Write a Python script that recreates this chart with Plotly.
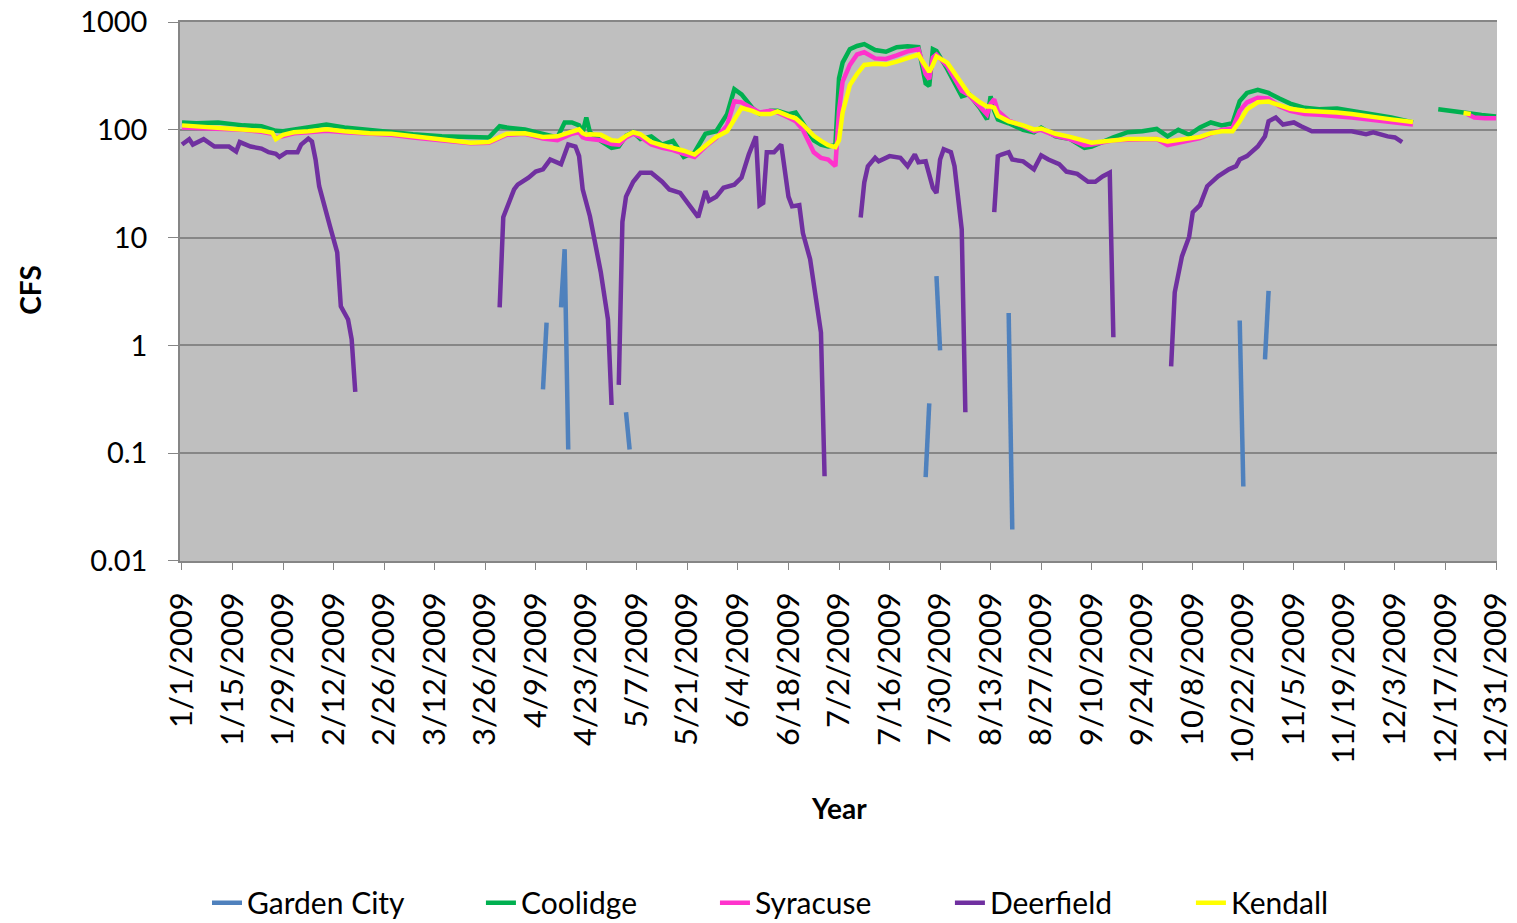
import plotly.graph_objects as go

# ---------------- data ----------------
main_dates = [
    "2009-01-01", "2009-01-05", "2009-01-11", "2009-01-18", "2009-01-23", "2009-01-26", "2009-01-27",
    "2009-01-29", "2009-02-01", "2009-02-05", "2009-02-10", "2009-02-15", "2009-02-22", "2009-02-28",
    "2009-03-06", "2009-03-14", "2009-03-22", "2009-03-27", "2009-03-30", "2009-04-01", "2009-04-06",
    "2009-04-11", "2009-04-15", "2009-04-17", "2009-04-19", "2009-04-21", "2009-04-22", "2009-04-23",
    "2009-04-24", "2009-04-27", "2009-04-30", "2009-05-02", "2009-05-04", "2009-05-06", "2009-05-08",
    "2009-05-11", "2009-05-14", "2009-05-17", "2009-05-20", "2009-05-23", "2009-05-26", "2009-05-29",
    "2009-06-01", "2009-06-03", "2009-06-05", "2009-06-08", "2009-06-10", "2009-06-13", "2009-06-15",
    "2009-06-18", "2009-06-20", "2009-06-22", "2009-06-25", "2009-06-27", "2009-06-29", "2009-07-01",
    "2009-07-02", "2009-07-03", "2009-07-05", "2009-07-07", "2009-07-09", "2009-07-12", "2009-07-15",
    "2009-07-18", "2009-07-21", "2009-07-24", "2009-07-25", "2009-07-26", "2009-07-27", "2009-07-28",
    "2009-07-29", "2009-08-01", "2009-08-05", "2009-08-07", "2009-08-10", "2009-08-11", "2009-08-12",
    "2009-08-13", "2009-08-14", "2009-08-15", "2009-08-18", "2009-08-22", "2009-08-25", "2009-08-27",
    "2009-08-31", "2009-09-04", "2009-09-08", "2009-09-10", "2009-09-13", "2009-09-16", "2009-09-20",
    "2009-09-24", "2009-09-28", "2009-10-01", "2009-10-04", "2009-10-07", "2009-10-10", "2009-10-13",
    "2009-10-16", "2009-10-19", "2009-10-21", "2009-10-23", "2009-10-26", "2009-10-29", "2009-11-01",
    "2009-11-04", "2009-11-08", "2009-11-12", "2009-11-17", "2009-11-21", "2009-11-27", "2009-12-02",
    "2009-12-08", "2009-12-10",
]

coolidge_main = [
    117, 115, 117, 110, 108, 100, 98,
    97, 100, 105, 112, 105, 99, 95,
    91, 87, 85, 85, 108, 105, 101,
    91, 85, 117, 117, 110, 95, 130,
    95, 79, 68, 70, 88, 95, 82,
    87, 73, 79, 56, 62, 92, 97,
    140, 238, 213, 160, 140, 150, 150,
    140, 145, 115, 80, 73, 70, 72,
    300, 420, 560, 600, 625, 550, 530,
    585, 595, 585, 390, 270, 255, 560,
    540, 365, 205, 215, 160, 140, 125,
    205, 150, 125, 115, 100, 95, 105,
    87, 82, 68, 70, 78, 85, 95,
    97, 102, 87, 100, 90, 105, 117,
    110, 115, 185, 220, 235, 220, 195,
    175, 160, 155, 158, 150, 140, 130,
    117, None,
]

syracuse_main = [
    105, 104, 103, 100, 96, 92, 84,
    88, 93, 95, 98, 95, 92, 90,
    85, 79, 75, 76, 84, 90, 92,
    83, 80, 86, 92, 95, 85, 83,
    82, 80, 74, 73, 85, 92, 86,
    73, 68, 65, 60, 56, 70, 84,
    110, 184, 180, 160, 145, 150, 145,
    130, 120, 100, 62, 55, 53, 46,
    150, 280, 400, 500, 525, 460, 455,
    490, 535, 560, 420, 330, 295, 470,
    500, 390, 230, 210, 165, 150, 139,
    175, 192, 150, 122, 108, 97, 100,
    88, 82, 72, 73, 77, 80, 81,
    81, 82, 72, 76, 80, 84, 92,
    100, 103, 150, 180, 198, 195, 165,
    150, 140, 138, 135, 130, 123, 118,
    112, None,
]

kendall_main = [
    110, 108, 106, 102, 98, 94, 82,
    90, 95, 97, 101, 97, 93, 92,
    87, 80, 76, 77, 87, 92, 93,
    86, 87, 91, 97, 101, 93, 90,
    91, 90, 80, 79, 88, 95, 91,
    77, 72, 68, 64, 59, 72, 86,
    97, 125, 160, 150, 140, 140, 148,
    135, 128, 112, 88, 79, 72, 69,
    80, 145, 260, 330, 400, 410, 405,
    430, 465, 500, 440, 390, 345, 400,
    480, 420, 265, 215, 180, 172, 165,
    165, 160, 135, 120, 110, 101, 103,
    92, 86, 80, 76, 78, 80, 82,
    82, 82, 78, 80, 82, 86, 93,
    97, 97, 120, 155, 180, 183, 170,
    157, 150, 148, 145, 140, 133, 125,
    118, None,
]

coolidge_late_dates = ["2009-12-15", "2009-12-19", "2009-12-23", "2009-12-27", "2009-12-31"]
coolidge_late = [155, 150, 143, 137, 133]
syracuse_late_dates = ["2009-12-23", "2009-12-25", "2009-12-28", "2009-12-31"]
syracuse_late = [140, 130, 128, 128]
kendall_late_dates = ["2009-12-22", "2009-12-24"]
kendall_late = [143, 140]

deerfield_dates = [
    "2009-01-01", "2009-01-03", "2009-01-04", "2009-01-07", "2009-01-10", "2009-01-14", "2009-01-16",
    "2009-01-17", "2009-01-20", "2009-01-23", "2009-01-25", "2009-01-27", "2009-01-28", "2009-01-30",
    "2009-02-02", "2009-02-03", "2009-02-05", "2009-02-06", "2009-02-07", "2009-02-08", "2009-02-11",
    "2009-02-13", "2009-02-14", "2009-02-16", "2009-02-17", "2009-02-18", "2009-02-19",
    "2009-03-30", "2009-03-31", "2009-04-03", "2009-04-04", "2009-04-07", "2009-04-09", "2009-04-11",
    "2009-04-13", "2009-04-16", "2009-04-18", "2009-04-20", "2009-04-21", "2009-04-22", "2009-04-24",
    "2009-04-27", "2009-04-29", "2009-04-30", "2009-05-01",
    "2009-05-02", "2009-05-03", "2009-05-04", "2009-05-06", "2009-05-08", "2009-05-11", "2009-05-14",
    "2009-05-16", "2009-05-19", "2009-05-22", "2009-05-24", "2009-05-26", "2009-05-27", "2009-05-29",
    "2009-05-31", "2009-06-03", "2009-06-05", "2009-06-07", "2009-06-09", "2009-06-10", "2009-06-11",
    "2009-06-12", "2009-06-14", "2009-06-16", "2009-06-18", "2009-06-19", "2009-06-21", "2009-06-22",
    "2009-06-24", "2009-06-27", "2009-06-28", "2009-06-29",
    "2009-07-08", "2009-07-09", "2009-07-10", "2009-07-12", "2009-07-13", "2009-07-16", "2009-07-19",
    "2009-07-21", "2009-07-23", "2009-07-24", "2009-07-26", "2009-07-28", "2009-07-29", "2009-07-30",
    "2009-07-31", "2009-08-02", "2009-08-03", "2009-08-05", "2009-08-06", "2009-08-07",
    "2009-08-14", "2009-08-15", "2009-08-16", "2009-08-18", "2009-08-19", "2009-08-22", "2009-08-25",
    "2009-08-27", "2009-08-29", "2009-09-01", "2009-09-03", "2009-09-06", "2009-09-09", "2009-09-11",
    "2009-09-13", "2009-09-15", "2009-09-16", "2009-09-17",
    "2009-10-02", "2009-10-03", "2009-10-05", "2009-10-07", "2009-10-08", "2009-10-10", "2009-10-12",
    "2009-10-15", "2009-10-18", "2009-10-20", "2009-10-21", "2009-10-23", "2009-10-26", "2009-10-28",
    "2009-10-29", "2009-10-31", "2009-11-02", "2009-11-05", "2009-11-07", "2009-11-10", "2009-11-14",
    "2009-11-21", "2009-11-25", "2009-11-27", "2009-12-01", "2009-12-03", "2009-12-05",
]
deerfield = [
    73, 82, 73, 82, 70, 70, 63,
    77, 70, 67, 62, 60, 56, 62,
    62, 73, 83, 78, 53, 30, 12.7,
    7.3, 2.3, 1.74, 1.14, 0.37, None,
    2.25, 15.5, 28, 31, 36, 41, 43,
    53, 48, 73, 70, 57, 28, 15.8,
    4.8, 1.74, 0.28, None,
    0.43, 14, 24, 33, 40, 40, 33,
    28, 26, 19.5, 15.5, 27, 22, 24,
    29, 31, 36, 59, 87, 20, 21,
    62, 62, 73, 24, 19.5, 20, 11,
    6.3, 1.32, 0.061, None,
    15.4, 32.5, 46, 55, 51, 57, 55,
    46, 59, 50, 51, 29, 26, 53,
    66, 62, 46, 11.9, 0.24, None,
    17.2, 57, 59, 62, 53, 51, 43,
    58, 53, 48, 41, 39, 33, 33,
    37, 40, 1.19, None,
    0.64, 3.1, 6.7, 10.2, 17.2, 20, 30,
    37, 43, 46, 53, 57, 70, 87,
    120, 130, 112, 117, 108, 97, 97,
    97, 91, 95, 87, 85, 77,
]

garden_city_dates = [
    "2009-04-11", "2009-04-12", "2009-04-13",
    "2009-04-16", "2009-04-17", "2009-04-18", "2009-04-19",
    "2009-05-04", "2009-05-05", "2009-05-06",
    "2009-07-26", "2009-07-27", "2009-07-28",
    "2009-07-29", "2009-07-30", "2009-07-31",
    "2009-08-18", "2009-08-19", "2009-08-20",
    "2009-10-21", "2009-10-22", "2009-10-23",
    "2009-10-28", "2009-10-29",
]
garden_city = [
    0.39, 1.63, None,
    2.25, 7.8, 0.108, None,
    0.24, 0.108, None,
    0.06, 0.29, None,
    4.4, 0.9, None,
    2.0, 0.0196, None,
    1.7, 0.049, None,
    0.74, 3.2,
]

y_tick_vals = [0.01, 0.1, 1, 10, 100, 1000]
y_tick_text = ["0.01", "0.1", "1", "10", "100", "1000"]

x_tick_vals = [
    "2009-01-01", "2009-01-15", "2009-01-29", "2009-02-12", "2009-02-26", "2009-03-12", "2009-03-26",
    "2009-04-09", "2009-04-23", "2009-05-07", "2009-05-21", "2009-06-04", "2009-06-18", "2009-07-02",
    "2009-07-16", "2009-07-30", "2009-08-13", "2009-08-27", "2009-09-10", "2009-09-24", "2009-10-08",
    "2009-10-22", "2009-11-05", "2009-11-19", "2009-12-03", "2009-12-17", "2009-12-31",
]
x_tick_text = [
    "1/1/2009", "1/15/2009", "1/29/2009", "2/12/2009", "2/26/2009", "3/12/2009", "3/26/2009",
    "4/9/2009", "4/23/2009", "5/7/2009", "5/21/2009", "6/4/2009", "6/18/2009", "7/2/2009",
    "7/16/2009", "7/30/2009", "8/13/2009", "8/27/2009", "9/10/2009", "9/24/2009", "10/8/2009",
    "10/22/2009", "11/5/2009", "11/19/2009", "12/3/2009", "12/17/2009", "12/31/2009",
]

series_names = ["Garden City", "Coolidge", "Syracuse", "Deerfield", "Kendall"]
colors = {
    "Garden City": "#4F81BD",
    "Coolidge": "#00B050",
    "Syracuse": "#FF33CC",
    "Deerfield": "#7030A0",
    "Kendall": "#FFFF00",
}

FONT = "Lato"

series = {
    "Garden City": (garden_city_dates, garden_city),
    "Coolidge": (main_dates + coolidge_late_dates, coolidge_main + coolidge_late),
    "Syracuse": (main_dates + syracuse_late_dates, syracuse_main + syracuse_late),
    "Deerfield": (deerfield_dates, deerfield),
    "Kendall": (main_dates + kendall_late_dates, kendall_main + kendall_late),
}

# legend positions (paper x) for each entry, one legend per entry
legend_x = [0.0205, 0.2285, 0.4062, 0.5846, 0.7676]
legend_keys = ["legend", "legend2", "legend3", "legend4", "legend5"]

# ---------------- figure ----------------
fig = go.Figure()
for name, key in zip(series_names, legend_keys):
    xs, ys = series[name]
    fig.add_trace(go.Scatter(x=xs, y=ys, name=name, mode="lines",
                             line=dict(color=colors[name], width=4.5), connectgaps=False,
                             legend=key))

legend_layout = {}
for key, lx in zip(legend_keys, legend_x):
    legend_layout[key] = dict(orientation="h", x=lx, xanchor="left", y=-0.634, yanchor="middle",
                              font=dict(family=FONT, size=30, color="black"),
                              bgcolor="rgba(0,0,0,0)", borderwidth=0)

fig.update_layout(
    width=1517, height=923,
    margin=dict(l=180, r=20, t=22, b=362, autoexpand=False),
    paper_bgcolor="white",
    plot_bgcolor="#BFBFBF",
    font=dict(family=FONT, size=29, color="black"),
    showlegend=True,
    xaxis=dict(
        type="date",
        range=["2008-12-31 10:48", "2009-12-31 06:30"],
        tickmode="array", tickvals=x_tick_vals, ticktext=x_tick_text,
        tickangle=-90,
        tickfont=dict(family=FONT, size=31, color="black"),
        showgrid=False, zeroline=False,
        showline=True, mirror=True, linecolor="#868686", linewidth=1.5,
        ticks="outside", ticklen=7, tickcolor="#868686",
        ticklabelstandoff=10,
        automargin=False,
    ),
    yaxis=dict(
        type="log",
        range=[-2.0005, 3.0005],
        tickmode="array", tickvals=y_tick_vals, ticktext=y_tick_text,
        tickfont=dict(family=FONT, size=29, color="black"),
        showgrid=True, gridcolor="#868686", gridwidth=1.5,
        zeroline=False,
        showline=True, linecolor="#868686", linewidth=1.5,
        ticks="outside", ticklen=10, tickcolor="#868686",
        ticklabelstandoff=15,
        ticklabeloverflow="allow",
        automargin=False,
    ),
    annotations=[
        dict(text="<b>Year</b>", xref="paper", yref="paper", x=0.5, y=-0.458,
             xanchor="center", yanchor="middle", showarrow=False,
             font=dict(family=FONT, size=28, color="black")),
        dict(text="<b>CFS</b>", xref="paper", yref="paper", x=-0.114, y=0.503,
             xanchor="center", yanchor="middle", showarrow=False, textangle=-90,
             font=dict(family=FONT, size=28, color="black")),
    ],
    **legend_layout,
)

# remove the default 8px page margin so the figure fills the window exactly
fig.write_html("out.html", config={"displayModeBar": False},
               post_script="document.body.style.margin='0px';")
